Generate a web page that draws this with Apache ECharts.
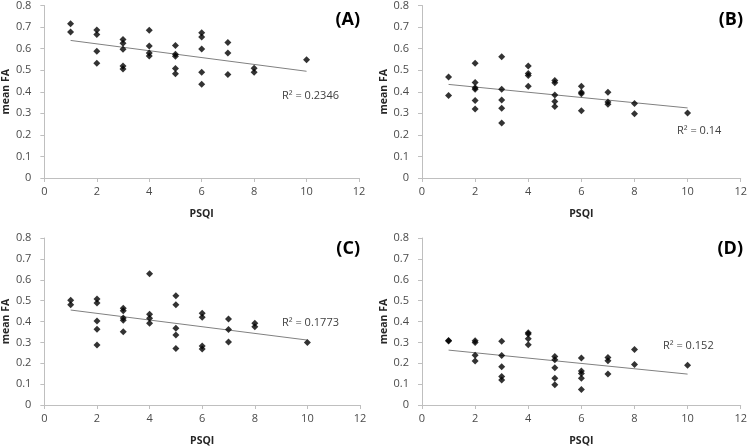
<!DOCTYPE html>
<html><head><meta charset="utf-8">
<script src="https://cdn.jsdelivr.net/npm/echarts@6/dist/echarts.min.js"></script>
<style>html,body{margin:0;padding:0;background:#fff}#c{width:750px;height:448px}</style>
</head><body><div id="c"></div>
<script>
// Panel data (PSQI x values, mean FA y values)
const psqiA = [1,1,2,2,2,2,3,3,3,3,3,4,4,4,4,5,5,5,5,5,6,6,6,6,6,7,7,7,8,8,10];
const faA   = [0.715,0.677,0.686,0.666,0.588,0.532,0.642,0.625,0.597,0.52,0.505,0.685,0.612,0.58,0.566,0.614,0.574,0.565,0.508,0.483,0.674,0.654,0.598,0.491,0.435,0.628,0.58,0.48,0.509,0.491,0.548];
const psqiB = [1,1,2,2,2,2,2,2,3,3,3,3,3,4,4,4,4,5,5,5,5,5,6,6,6,6,7,7,7,8,8,10];
const faB   = [0.468,0.383,0.532,0.443,0.418,0.412,0.36,0.32,0.562,0.412,0.362,0.323,0.255,0.52,0.485,0.475,0.425,0.452,0.442,0.385,0.355,0.332,0.425,0.398,0.391,0.312,0.398,0.352,0.342,0.345,0.298,0.302];
const psqiC = [1,1,2,2,2,2,2,3,3,3,3,3,4,4,4,4,5,5,5,5,5,6,6,6,6,7,7,7,8,8,10];
const faC   = [0.502,0.48,0.508,0.489,0.402,0.363,0.288,0.463,0.452,0.417,0.406,0.351,0.629,0.435,0.415,0.392,0.523,0.48,0.368,0.335,0.271,0.44,0.42,0.283,0.268,0.412,0.362,0.302,0.392,0.375,0.3];
const psqiD = [1,1,2,2,2,2,3,3,3,3,3,4,4,4,4,5,5,5,5,5,6,6,6,6,6,7,7,7,8,8,10];
const faD   = [0.309,0.306,0.308,0.3,0.238,0.211,0.305,0.237,0.183,0.137,0.12,0.346,0.34,0.317,0.289,0.232,0.217,0.178,0.128,0.097,0.225,0.163,0.151,0.128,0.074,0.228,0.212,0.149,0.266,0.194,0.191];
// Trendline endpoints [x1, x2] and [y1, y2]
const trendX = [1, 10];
const trendA = [0.638, 0.495];
const trendB = [0.434, 0.325];
const trendC = [0.455, 0.311];
const trendD = [0.263, 0.148];
const r2Labels = ['R² = 0.2346', 'R² = 0.14', 'R² = 0.1773', 'R² = 0.152'];
const panelLabels = ['(A)', '(B)', '(C)', '(D)'];
const xTicks = [0, 2, 4, 6, 8, 10, 12];
const yTicks = [0, 0.1, 0.2, 0.3, 0.4, 0.5, 0.6, 0.7, 0.8];

const panels = [[psqiA, faA, trendA], [psqiB, faB, trendB], [psqiC, faC, trendC], [psqiD, faD, trendD]];
const grids = [
  {left: 39, top: 5, width: 320, height: 173},
  {left: 422, top: 5, width: 321, height: 173},
  {left: 39, top: 238, width: 321, height: 173},
  {left: 422, top: 238, width: 321, height: 173}
];
const FONT = 'Open Sans';
const axisLine = {show: true, lineStyle: {color: '#bfbfbf', width: 1}};
const xAxes = [], yAxes = [], series = [];
panels.forEach((p, i) => {
  xAxes.push({gridIndex: i, type: 'value', min: xTicks[0], max: xTicks[xTicks.length-1], interval: 2,
    name: 'PSQI', nameLocation: 'middle', nameGap: 31,
    nameTextStyle: {fontFamily: FONT, fontSize: 10.5, fontWeight: 'bold', color: '#262626'},
    axisLine: axisLine, axisTick: {show: true, length: 4, lineStyle: {color: '#bfbfbf'}},
    splitLine: {show: false},
    axisLabel: {fontFamily: FONT, fontSize: 11, color: '#4a4a4a', margin: 8}});
  yAxes.push({gridIndex: i, type: 'value', min: yTicks[0], max: yTicks[yTicks.length-1], interval: 0.1,
    name: 'mean FA', nameLocation: 'middle', nameGap: 31, nameRotate: 90,
    nameTextStyle: {fontFamily: FONT, fontSize: 10.5, fontWeight: 'bold', color: '#262626'},
    axisLine: axisLine, axisTick: {show: true, length: 4, lineStyle: {color: '#bfbfbf'}},
    splitLine: {show: false},
    axisLabel: {fontFamily: FONT, fontSize: 11, color: '#4a4a4a', margin: 13,
      formatter: v => v === 0 ? '0' : v.toFixed(1)}});
  series.push({type: 'scatter', xAxisIndex: i, yAxisIndex: i, symbol: 'diamond', symbolSize: [7, 7],
    itemStyle: {color: '#000'}, data: p[0].map((x, k) => [x, p[1][k]]), z: 3});
  series.push({type: 'line', xAxisIndex: i, yAxisIndex: i, symbol: 'none', silent: true,
    lineStyle: {color: '#808080', width: 1}, data: trendX.map((x, k) => [x, p[2][k]]), z: 2});
});
const graphic = [];
const r2Pos = [[282, 97], [677, 132], [282, 324], [663, 347]];
const labPos = [[360, 22], [743, 22], [360, 251], [743, 251]];
r2Labels.forEach((t, i) => graphic.push({type: 'text', left: r2Pos[i][0], top: r2Pos[i][1] - 7,
  style: {text: t, font: '11px "Open Sans"', fill: '#404040'}}));
panelLabels.forEach((t, i) => graphic.push({type: 'text', right: 750 - labPos[i][0], top: labPos[i][1] - 11,
  style: {text: t, font: 'bold 18px "Open Sans"', fill: '#000'}}));

const chart = echarts.init(document.getElementById('c'), null, {renderer: 'canvas'});
chart.setOption({animation: false, grid: grids, xAxis: xAxes, yAxis: yAxes, series: series, graphic: graphic});
</script></body></html>
